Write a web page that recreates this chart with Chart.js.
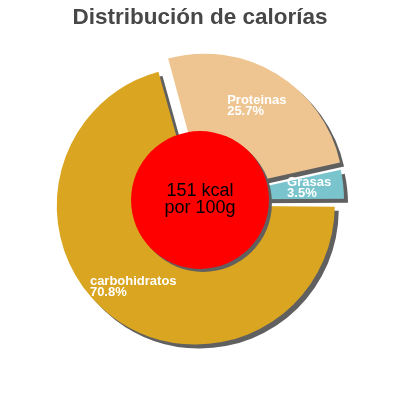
<!DOCTYPE html>
<html lang="es">
<head>
    <meta charset="UTF-8">
    <title>Distribución de calorías</title>
    <script src="https://cdn.jsdelivr.net/npm/chart.js"></script>
    <style>
        html, body { margin: 0; padding: 0; background: #fff; }
        #wrap { width: 400px; height: 400px; }
    </style>
</head>
<body>
    <div id="wrap"><canvas id="calChart" width="400" height="400"></canvas></div>

    <script>
        // data
        const labels = ['carbohidratos', 'Proteinas', 'Grasas'];
        const percents = [70.8, 25.7, 3.5];
        const colors = ['#DAA520', '#EEC591', '#7AC5CD'];
        // chart.js v4 divides arc offset by 4 when drawing
        const sliceOffsets = [28, 34, 20];
        const centerLines = ['151 kcal', 'por 100g'];
        const titleText = 'Distribución de calorías';

        // chart.js also grows an offset arc's radius; undo that so all slices share one radius
        const keepRadiusPlugin = {
            id: 'keepRadius',
            afterDatasetUpdate(chart, args) {
                args.meta.data.forEach(arc => {
                    const off = (arc.options.offset || 0) / 4;
                    const circ = arc.endAngle - arc.startAngle;
                    arc.outerRadius -= off * (1 - Math.sin(Math.min(Math.PI, circ)));
                });
            }
        };

        // hard grey shadow under the slices
        const shadowPlugin = {
            id: 'shadow',
            beforeDatasetsDraw(chart) {
                const ctx = chart.ctx;
                ctx.save();
                ctx.shadowColor = '#606060';
                ctx.shadowOffsetX = 4;
                ctx.shadowOffsetY = 4;
                ctx.shadowBlur = 0;
            },
            afterDatasetsDraw(chart) {
                chart.ctx.restore();
            }
        };

        // red disc with the energy text, then slice labels
        const centerPlugin = {
            id: 'center',
            afterDatasetsDraw(chart) {
                const ctx = chart.ctx;
                const meta = chart.getDatasetMeta(0);
                const arcs = meta.data;
                const cx = arcs[0].x, cy = arcs[0].y;
                const outer = meta.controller.outerRadius;

                ctx.save();
                ctx.shadowColor = '#606060';
                ctx.shadowOffsetX = 3;
                ctx.shadowOffsetY = 3;
                ctx.beginPath();
                ctx.arc(cx, cy, outer * 0.496, 0, Math.PI * 2);
                ctx.fillStyle = '#FF0000';
                ctx.fill();
                ctx.restore();

                ctx.save();
                ctx.fillStyle = '#000';
                ctx.font = '18px "Liberation Sans", Arial, sans-serif';
                ctx.textAlign = 'center';
                ctx.textBaseline = 'alphabetic';
                ctx.fillText(centerLines[0], cx, cy - 4);
                ctx.fillText(centerLines[1], cx, cy + 13);
                ctx.restore();

                ctx.save();
                ctx.fillStyle = '#fff';
                ctx.font = 'bold 13px "Liberation Sans", Arial, sans-serif';
                ctx.textBaseline = 'alphabetic';
                ctx.textAlign = 'left';
                arcs.forEach((arc, i) => {
                    const mid = (arc.startAngle + arc.endAngle) / 2;
                    const r = outer * 0.79;
                    const px = cx + Math.cos(mid) * r;
                    const py = cy + Math.sin(mid) * r;
                    const lines = [labels[i], percents[i].toFixed(1) + '%'];
                    const w = Math.max(...lines.map(l => ctx.measureText(l).width));
                    const left = px - w / 2;
                    ctx.fillText(lines[0], left, py - 2);
                    ctx.fillText(lines[1], left, py + 9);
                });
                ctx.restore();
            }
        };

        new Chart(document.getElementById('calChart'), {
            type: 'pie',
            data: {
                labels: labels,
                datasets: [{
                    data: percents,
                    backgroundColor: colors,
                    borderWidth: 0,
                    offset: sliceOffsets
                }]
            },
            options: {
                responsive: false,
                animation: false,
                rotation: 90,
                layout: { padding: { left: 44, right: 44, top: 0, bottom: 39.6 } },
                plugins: {
                    legend: { display: false },
                    tooltip: { enabled: false },
                    title: {
                        display: true,
                        text: titleText,
                        color: '#474747',
                        font: { family: '"Liberation Sans", Arial, sans-serif', size: 22.5, weight: 'bold', lineHeight: 1.2 },
                        padding: { top: 4, bottom: 8.6 }
                    }
                }
            },
            plugins: [keepRadiusPlugin, shadowPlugin, centerPlugin]
        });
    </script>
</body>
</html>
